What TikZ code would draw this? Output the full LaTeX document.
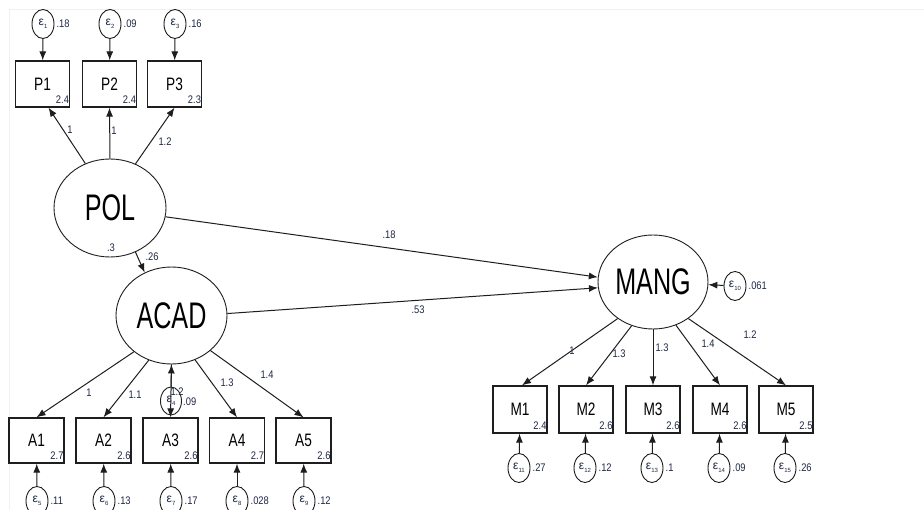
\documentclass[tikz,border=0pt]{standalone}
\usepackage{fontspec}
\setmainfont{Liberation Sans}
\newfontfamily\bigf[FakeStretch=0.68]{Liberation Sans}
\newfontfamily\boxf[FakeStretch=0.76]{Liberation Sans}
\newfontfamily\numf[FakeStretch=0.85]{Liberation Sans}
\usetikzlibrary{arrows.meta,shapes.geometric}
\definecolor{numcol}{RGB}{30,40,70}
\definecolor{linecol}{RGB}{30,30,30}
\newcommand{\epsl}[1]{{\fontsize{12}{12}\selectfont ε}\raisebox{-2.5pt}{\fontsize{6}{6}\selectfont #1}}
\tikzset{
  lat/.style={ellipse, draw=linecol, line width=0.9pt, inner sep=0pt, font=\bigf\fontsize{37}{37}\selectfont},
  obs/.style={rectangle, draw=linecol, line width=1.3pt, minimum width=54pt, minimum height=46pt, inner sep=0pt, font=\boxf\fontsize{18}{18}\selectfont},
  err/.style={ellipse, draw=linecol, line width=0.9pt, minimum width=22pt, minimum height=29pt, inner sep=0pt, text=numcol},
  num/.style={inner sep=0pt, text=numcol, font=\numf\fontsize{11}{11}\selectfont},
  arr/.style={draw=linecol, line width=1pt, -{Latex[length=9pt,width=7pt]}},
}
\begin{document}
\begin{tikzpicture}[x=1pt,y=-1pt]
\useasboundingbox (0,0) rectangle (924,510);
\fill[white] (0,0) rectangle (924,510);
\draw[black!6, line width=0.6pt] (924,9) -- (9,9) -- (9,510);

% latent variables
\node[lat, minimum width=112pt, minimum height=98pt] (POL) at (110,208) {POL};
\node[lat, minimum width=111pt, minimum height=97pt] (ACAD) at (171.5,315.5) {ACAD};
\node[lat, minimum width=110pt, minimum height=94pt] (MANG) at (653,282) {MANG};

% P indicators
\node[obs] (P1) at (42.5,84) {P1};
\node[obs] (P2) at (109.5,84) {P2};
\node[obs] (P3) at (174.5,84) {P3};
\foreach \b/\v in {P1/2.4,P2/2.4,P3/2.3}
  \node[num, anchor=base east] (v\b) at ([xshift=-1pt,yshift=4pt]\b.south east) {\v};

% A indicators
\foreach \b/\x/\v in {A1/36.5/2.7,A2/103.5/2.6,A3/170.5/2.6,A4/237/2.7,A5/303.5/2.6}{
  \node[obs, minimum width=55pt, minimum height=45pt] (\b) at (\x,440.5) {\b};
  \node[num, anchor=base east] (v\b) at ([xshift=-1pt,yshift=4pt]\b.south east) {\v};
}

% M indicators
\foreach \b/\x/\v in {M1/520/2.4,M2/586/2.6,M3/653/2.6,M4/720/2.6,M5/786/2.5}{
  \node[obs, minimum height=47pt] (\b) at (\x,409.5) {\b};
  \node[num, anchor=base east] (v\b) at ([xshift=-1pt,yshift=4pt]\b.south east) {\v};
}

% error terms
\foreach \e/\n/\x/\y/\v in {e1/1/43/24/.18, e2/2/110/24/.09, e3/3/175/24/.16,
  e5/5/37/501/.11, e6/6/104/501/.13, e7/7/171/501/.17, e8/8/237/501/.028, e9/9/304/501/.12,
  e11/11/519/468/.27, e12/12/585/468/.12, e13/13/652/468/.1, e14/14/719/468/.09, e15/15/785/468/.26,
  e10/10/735/286/.061}{
  \node[err] (\e) at (\x,\y) {\epsl{\n}};
  \node[num, anchor=west] (v\e) at ([xshift=2pt]\e.east) {\v};
}
\node[err, minimum width=21pt, minimum height=28pt] (e4) at (171,401) {\epsl{4}};
\node[num, anchor=west] (ve4) at (183,402) {.09};

% error arrows
\foreach \e/\b in {e1/P1,e2/P2,e3/P3,e5/A1,e6/A2,e7/A3,e8/A4,e9/A5,e11/M1,e12/M2,e13/M3,e14/M4,e15/M5}
  \draw[arr] (\e) -- (\b);
\draw[arr] (e10) -- (MANG);
\draw[arr] (e4.north) -- (ACAD.270);

% loadings POL
\draw[arr] (POL.119) -- ([xshift=6pt]P1.south);
\draw[arr] (POL.90) -- (P2.south);
\draw[arr] (POL.60) -- (P3.south);
\node[num] (lP1) at (70,130) {1};
\node[num] (lP2) at (114,131) {1};
\node[num] (lP3) at (165,142) {1.2};
\node[num] (vPOL) at (111,248) {.3};

% structural paths
\draw[arr] (POL.300) -- (ACAD.122);
\node[num] (lPA) at (152,257) {.26};
\draw[arr] (POL.351) -- (MANG.175);
\node[num] (lPM) at (389,235) {.18};
\draw[arr] (ACAD.2.6) -- (MANG.186);
\node[num] (lAM) at (418,310) {.53};

% loadings ACAD
\draw[arr] (ACAD.224) -- (A1.north);
\draw[arr] (ACAD.243) -- (A2.north);
\draw[arr] (ACAD.270) -- (A3.north);
\draw[arr] (ACAD.298) -- (A4.north);
\draw[arr] (ACAD.318) -- (A5.north);
\node[num] (lA1) at (89,393) {1};
\node[num] (lA2) at (135,395) {1.1};
\node[num] (lA3) at (177,392) {1.2};
\node[num] (lA4) at (227,383) {1.3};
\node[num] (lA5) at (267,375) {1.4};

% loadings MANG
\draw[arr] (MANG.226) -- ([xshift=2pt]M1.north);
\draw[arr] (MANG.244) -- (M2.north);
\draw[arr] (MANG.270) -- (M3.north);
\draw[arr] (MANG.298) -- (M4.north);
\draw[arr] (MANG.314) -- (M5.north);
\node[num] (lM1) at (572,351) {1};
\node[num] (lM2) at (619,354) {1.3};
\node[num] (lM3) at (662,348) {1.3};
\node[num] (lM4) at (708,344) {1.4};
\node[num] (lM5) at (750,335) {1.2};
\end{tikzpicture}
\end{document}
